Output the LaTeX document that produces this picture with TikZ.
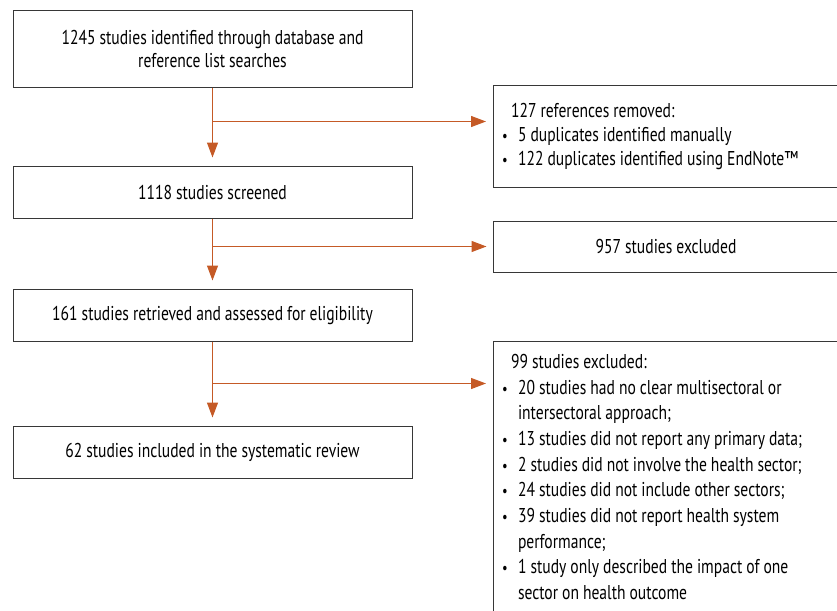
\documentclass[tikz,border=0pt]{standalone}
\usepackage{fontspec}
\setmainfont[FakeStretch=0.78]{PT Sans}
\usetikzlibrary{arrows.meta,positioning,calc}
\definecolor{flowor}{RGB}{197,90,38}
\definecolor{boxgray}{RGB}{55,55,55}
\newcommand{\flowfont}[1][23.5]{\fontsize{20}{#1}\selectfont
  \fontdimen2\font=4pt\relax}
\tikzset{box/.style  ={draw=boxgray, line width=1pt, inner sep=0pt,
                       font=\flowfont},
         stage/.style={box, minimum width=399pt, text width=380pt,
                       align=flush center},
         side/.style ={box, minimum width=345pt, text width=327pt,
                       align=flush left},
         flow/.style ={draw=flowor, line width=1.2pt,
                       -{Triangle[length=15pt,width=11pt]}}}
\newcommand{\bitem}[1]{\par\hangindent=16pt\hangafter=1\noindent
  \makebox[16pt][l]{\scalebox{0.8}{\textbullet}}#1}

\begin{document}
\begin{tikzpicture}[x=1pt, y=1pt]
    \useasboundingbox (0,0) rectangle (837,-610);
    % left column
    \node (A) [stage, minimum height=76pt] at (212.5,-49)
        {1245 studies identified through database and\\reference list searches};
    \node (B) [stage, minimum height=52pt] at (212.5,-192) {1118 studies screened};
    \node (C) [stage, minimum height=52pt] at (212.5,-315)
        {161 studies retrieved and assessed for eligibility};
    \node (D) [stage, minimum height=52pt] at (212.5,-452)
        {62 studies included in the systematic review};
    % right column
    \node (R1) [side, minimum height=102pt, font={\flowfont[24]}] at (665.5,-136)
        {\hspace*{9pt}127 references removed:
         \bitem{5 duplicates identified manually}
         \bitem{122 duplicates identified using EndNote™}\par\vspace{-14pt}};
    \node (R2) [side, minimum height=51pt, align=flush center] at (666,-246.5)
        {957 studies excluded};
    \node (R3) [side, minimum height=272pt, font={\flowfont[25.7]}] at (665.5,-477)
        {\hspace*{9pt}99 studies excluded:
         \bitem{20 studies had no clear multisectoral or\hfil\break intersectoral approach;}
         \bitem{13 studies did not report any primary data;}
         \bitem{2 studies did not involve the health sector;}
         \bitem{24 studies did not include other sectors;}
         \bitem{39 studies did not report health system\hfil\break performance;}
         \bitem{1 study only described the impact of one\hfil\break sector on health outcome}\par};
    % branch points
    \coordinate (jA) at ($(A.south)+(0,-34)$);
    \coordinate (jB) at ($(B.south)+(0,-28)$);
    \coordinate (jC) at ($(C.south)+(0,-42)$);
    % connectors
    \draw[flow, shorten >=8pt] (A) -- (B);
    \draw[flow, shorten >=8pt] (B) -- (C);
    \draw[flow, shorten >=8pt] (C) -- (D);
    \draw[flow, shorten >=6.5pt] (jA) -- (jA -| R1.west);
    \draw[flow, shorten >=6.5pt] (jB) -- (jB -| R2.west);
    \draw[flow, shorten >=6.5pt] (jC) -- (jC -| R3.west);
\end{tikzpicture}
\end{document}
